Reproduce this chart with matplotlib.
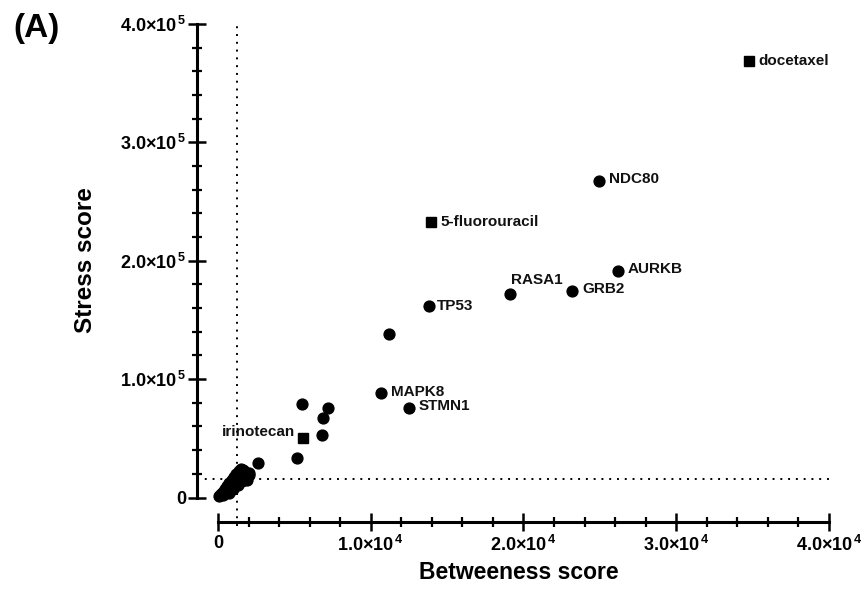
import matplotlib
matplotlib.use("Agg")
import matplotlib.pyplot as plt
from matplotlib.ticker import MultipleLocator, FuncFormatter

plt.rcParams["font.family"] = ["Liberation Sans", "DejaVu Sans"]
plt.rcParams["font.weight"] = "bold"
plt.rcParams["mathtext.fontset"] = "custom"
plt.rcParams["mathtext.rm"] = "Liberation Sans:bold"
plt.rcParams["mathtext.it"] = "Liberation Sans:bold"
plt.rcParams["mathtext.bf"] = "Liberation Sans:bold"

# labelled hub genes
gene_names = ["NDC80", "AURKB", "GRB2", "RASA1", "TP53", "MAPK8", "STMN1"]
gene_betweenness = [24940, 26200, 23200, 19100, 13800, 10700, 12500]
gene_stress = [267800, 191500, 174600, 171800, 162100, 88100, 75900]

# drugs (square markers)
drug_names = ["docetaxel", "5-fluorouracil", "irinotecan"]
drug_betweenness = [34760, 13940, 5580]
drug_stress = [369000, 232600, 50500]

# remaining unlabelled nodes
other_betweenness = [11200, 5520, 7180, 6890, 6830, 5190, 2600,
                     100, 200, 350, 300, 500, 450, 650, 600, 800, 750,
                     950, 900, 1100, 1050, 1250, 1200, 1400, 1450, 1600,
                     1700, 1800, 2000, 1900, 1550, 1300, 1000, 700, 1650,
                     1350, 2050, 1500]
other_stress = [138200, 79000, 75400, 67500, 52800, 33600, 29500,
                1000, 3000, 2000, 5000, 4500, 7500, 6000, 9500, 8500, 12000,
                11000, 14500, 13000, 17000, 16000, 19500, 18000, 21500, 20000,
                22500, 17500, 19000, 15000, 14000, 10500, 7000, 3500, 23500,
                22000, 21000, 24000]

# cut-off lines
betweenness_cutoff = 1230
stress_cutoff = 15600

# label offsets in points (dx, dy, ha)
label_offsets = {
    "NDC80": (7, 1, "left"), "AURKB": (7, 1, "left"), "GRB2": (7, 1, "left"),
    "RASA1": (1, 10, "left"), "TP53": (6, 0, "left"), "MAPK8": (7, 1, "left"),
    "STMN1": (7, 1, "left"), "docetaxel": (7, 0, "left"),
    "5-fluorouracil": (7, 0, "left"), "irinotecan": (-6, 4, "right"),
}


def sci_fmt(v, pos):
    if v == 0:
        return "0"
    exp = len(str(int(abs(v)))) - 1
    mant = v / 10 ** exp
    return r"$%.1f{\times}10^{\,%d}$" % (mant, exp)


fig = plt.figure(figsize=(8.66, 5.92), dpi=100)
ax = fig.add_axes([0.2517, 0.1596, 0.7056, 0.7998])

ax.axvline(betweenness_cutoff, ymin=-0.06, ymax=1.005, color="black",
           linestyle=(0, (1, 3)), linewidth=1.4, clip_on=False, zorder=1)
ax.axhline(stress_cutoff, xmin=-0.034, xmax=1.0, color="black",
           linestyle=(0, (1, 3)), linewidth=1.4, clip_on=False, zorder=1)

ax.plot(other_betweenness, other_stress, "o", color="black", ms=7.8,
        clip_on=False, zorder=3)
ax.plot(gene_betweenness, gene_stress, "o", color="black", ms=7.8,
        clip_on=False, zorder=3)
ax.plot(drug_betweenness, drug_stress, "s", color="black", ms=6.8,
        clip_on=False, zorder=3)

for name, x, y in zip(gene_names + drug_names,
                      gene_betweenness + drug_betweenness,
                      gene_stress + drug_stress):
    dx, dy, ha = label_offsets[name]
    ax.annotate(name, (x, y), xytext=(dx, dy), textcoords="offset points",
                ha=ha, va="center", fontsize=11, fontweight="bold",
                color="#111111")

ax.set_xlim(0, 40000)
ax.set_ylim(0, 400000)

for side in ["top", "right"]:
    ax.spines[side].set_visible(False)
ax.spines["left"].set_position(("outward", 15))
ax.spines["bottom"].set_position(("outward", 17.6))
for side in ["left", "bottom"]:
    ax.spines[side].set_linewidth(2.2)

ax.xaxis.set_major_locator(MultipleLocator(10000))
ax.xaxis.set_minor_locator(MultipleLocator(2000))
ax.yaxis.set_major_locator(MultipleLocator(100000))
ax.yaxis.set_minor_locator(MultipleLocator(20000))
ax.xaxis.set_major_formatter(FuncFormatter(sci_fmt))
ax.yaxis.set_major_formatter(FuncFormatter(sci_fmt))

ax.tick_params(which="major", direction="inout", length=13, width=1.8,
               labelsize=13, color="black")
ax.tick_params(which="minor", direction="inout", length=7, width=1.6)
ax.tick_params(axis="y", which="major", pad=1)
ax.tick_params(axis="x", which="major", pad=3)

ax.set_xlabel("Betweeness score", fontsize=16.5, fontweight="bold")
ax.set_ylabel("Stress score", fontsize=17.5, fontweight="bold")
ax.xaxis.set_label_coords(0.4926, -0.134)
ax.yaxis.set_label_coords(-0.198, 0.5016)

fig.text(0.015, 0.978, "(A)", fontsize=24, fontweight="bold", va="top",
         ha="left")

fig.savefig("out.png", dpi=100, facecolor="white")
